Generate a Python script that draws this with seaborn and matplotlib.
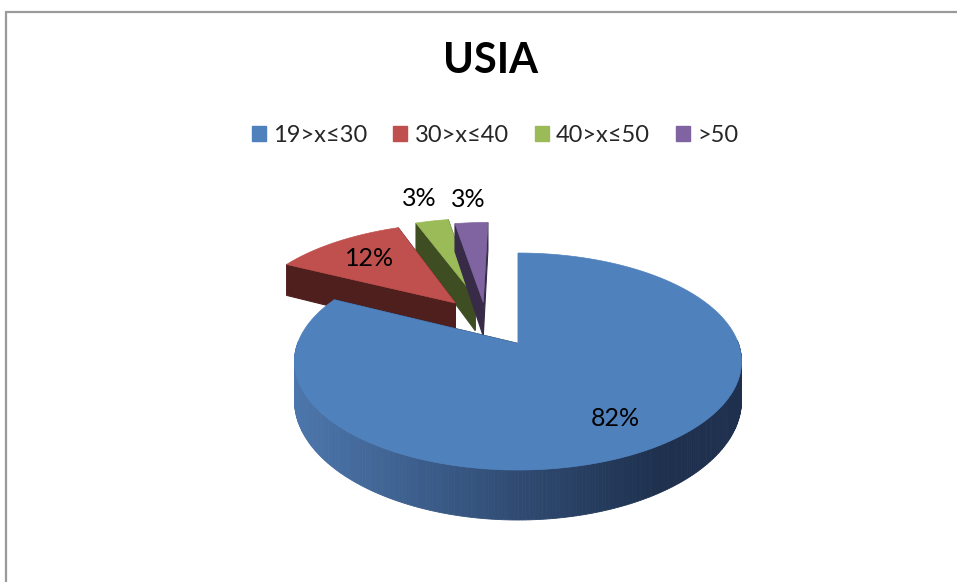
import numpy as np
import matplotlib
matplotlib.use("Agg")
import matplotlib.pyplot as plt
import seaborn as sns
from matplotlib.patches import Polygon, Patch
from matplotlib.lines import Line2D

# ---------------- data ----------------
categories = ["19>x≤30", "30>x≤40", "40>x≤50", ">50"]
counts = [28, 4, 1, 1]
title = "USIA"

# ---------------- style ----------------
top_colors = ["#4F81BD", "#C0504D", "#9BBB59", "#8064A2"]
face_colors = ["#1F3350", "#4F1F1E", "#3F4D22", "#372B48"]
explode_dist = [0.0, 0.51, 0.52, 0.45]
explode_rot = [0.0, 5.8, -7.9, -16.7]
label_r = [0.75, 0.70, 1.35, 1.35]

sns.set_theme(style="white")
plt.rcParams["font.family"] = ["Lato", "DejaVu Sans"]

W, Hpx = 957, 582
fig = plt.figure(figsize=(W / 100, Hpx / 100), dpi=100)
ax = fig.add_axes([0, 0, 1, 1])
ax.set_xlim(0, W)
ax.set_ylim(Hpx, 0)
ax.axis("off")

# projection of the tilted disc (pixel space)
CX, CY, A, B, P = 518.0, 343.5, 220.4, 105.5, 0.166
DEPTH, Q = 37.5, 0.25


def proj(u, v):
    w = 1 - P * v
    return CX + A * u / w, CY + B * v / w


def depth(v):
    return DEPTH / (1 - Q * v)


vals = np.array(counts, dtype=float)
frac = vals / vals.sum()
edges = np.concatenate([[0], np.cumsum(frac) * 360.0])
pct = [f"{round(f * 100):d}%" for f in frac]

slices = []
for i in range(len(vals)):
    t0, t1 = edges[i], edges[i + 1]
    mid = np.deg2rad((t0 + t1) / 2 + explode_rot[i])
    ou, ov = explode_dist[i] * np.sin(mid), -explode_dist[i] * np.cos(mid)
    slices.append((i, t0, t1, ou, ov))

# draw far slices first
order = sorted(slices, key=lambda s: s[4])

c_left = np.array([76, 118, 172]) / 255
c_right = np.array([30, 48, 78]) / 255

for i, t0, t1, ou, ov in order:
    th = np.deg2rad(np.linspace(t0, t1, 400))
    u = np.sin(th) + ou
    v = -np.cos(th) + ov
    X, Y = proj(u, v)
    Yb = Y + depth(v)
    cxp, cyp = proj(ou, ov)
    cyb = cyp + depth(ov)

    # outer wall (front-facing part only)
    for k in range(len(th) - 1):
        if -np.cos(th[k]) < -0.02 and -np.cos(th[k + 1]) < -0.02:
            continue
        if i == 0:
            t = np.clip((X[k] - 295) / (660 - 295), 0, 1)
            col = c_left * (1 - t) + c_right * t
        else:
            col = face_colors[i]
        ax.add_patch(Polygon([(X[k], Y[k]), (X[k + 1], Y[k + 1]),
                              (X[k + 1], Yb[k + 1]), (X[k], Yb[k])],
                             closed=True, facecolor=col, edgecolor=col, lw=0.6))

    # radial faces
    for kk in (0, -1):
        ax.add_patch(Polygon([(cxp, cyp), (X[kk], Y[kk]), (X[kk], Yb[kk]), (cxp, cyb)],
                             closed=True, facecolor=face_colors[i],
                             edgecolor=face_colors[i], lw=0.8))

    # top face
    pts = [(cxp, cyp)] + list(zip(X, Y))
    ax.add_patch(Polygon(pts, closed=True, facecolor=top_colors[i],
                         edgecolor=top_colors[i], lw=0.5))

# labels
for i, t0, t1, ou, ov in slices:
    m = np.deg2rad((t0 + t1) / 2)
    lx, ly = proj(ou + label_r[i] * np.sin(m), ov - label_r[i] * np.cos(m))
    ax.text(lx, ly, pct[i], ha="center", va="center", fontsize=18, color="black")

# title
ax.text(490, 61, title, ha="center", va="center", fontsize=30,
        fontweight="bold", color="black")

# legend
handles = [Patch(facecolor=c, edgecolor=c) for c in top_colors]
fig.legend(handles, categories, loc="center", bbox_to_anchor=(495 / W, 1 - 135 / Hpx),
           ncol=4, frameon=False, fontsize=17, handlelength=0.6, handleheight=0.6,
           handletextpad=0.3, columnspacing=1.1, borderaxespad=0)

# chart frame (left and top edges visible)
ax.add_line(Line2D([5.5, 5.5], [11.5, Hpx + 5], color="#9A9A9A", lw=1.6))
ax.add_line(Line2D([5.5, W + 5], [11.5, 11.5], color="#9A9A9A", lw=1.6))

fig.savefig("out.png", dpi=100)
